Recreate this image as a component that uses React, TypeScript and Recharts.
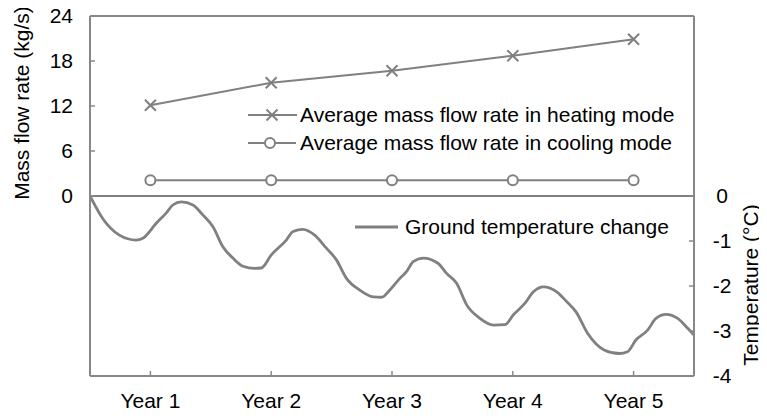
import React from "react";
import { ComposedChart, Line, XAxis, YAxis, ReferenceLine } from "recharts";

const yearPositions = [0.5, 1.5, 2.5, 3.5, 4.5];
const yearLabels = ["Year 1", "Year 2", "Year 3", "Year 4", "Year 5"];
const heatingFlow = [12.1, 15.1, 16.7, 18.7, 20.9];
const coolingFlow = [2.1, 2.1, 2.1, 2.1, 2.1];
const massTicks = [0, 6, 12, 18, 24];
const tempTicks = [0, -1, -2, -3, -4];

const tempTime = [
  0, 0.105, 0.243, 0.381, 0.437, 0.547, 0.63, 0.686, 0.755, 0.852, 0.934, 1.017, 1.1, 1.183,
  1.266, 1.362, 1.418, 1.501, 1.625, 1.681, 1.764, 1.86, 1.957, 2.04, 2.123, 2.233, 2.344,
  2.413, 2.482, 2.565, 2.62, 2.676, 2.759, 2.883, 2.952, 3.035, 3.118, 3.228, 3.339, 3.435,
  3.505, 3.601, 3.671, 3.754, 3.864, 3.947, 4.022, 4.119, 4.256, 4.381, 4.45, 4.519, 4.616,
  4.685, 4.768, 4.865, 4.948, 5.0,
];
const tempChange = [
  0, -0.5, -0.87, -0.98, -0.94, -0.61, -0.38, -0.2, -0.13, -0.2, -0.42, -0.68, -1.13, -1.38,
  -1.56, -1.61, -1.6, -1.31, -0.98, -0.79, -0.74, -0.87, -1.16, -1.42, -1.83, -2.09, -2.24,
  -2.25, -2.09, -1.83, -1.68, -1.46, -1.38, -1.5, -1.72, -1.94, -2.42, -2.72, -2.87, -2.86,
  -2.64, -2.38, -2.13, -2.02, -2.13, -2.35, -2.57, -3.05, -3.42, -3.5, -3.46, -3.2, -2.98,
  -2.72, -2.63, -2.72, -2.94, -3.09,
];

const flowData = yearPositions.map((t, i) => ({ t, heating: heatingFlow[i], cooling: coolingFlow[i] }));
const tempData = tempTime.map((t, i) => ({ t, temp: tempChange[i] }));

const FONT = "'Liberation Sans', Arial, sans-serif";
const FS = 21;
const LINE = "#808080";
const FRAME = "#888888";

const XMark = (props: any) => {
  const { cx, cy } = props;
  if (cx == null || cy == null) return null;
  const s = 5.5;
  return (
    <g>
      <line x1={cx - s} y1={cy - s} x2={cx + s} y2={cy + s} stroke={LINE} strokeWidth={2} />
      <line x1={cx - s} y1={cy + s} x2={cx + s} y2={cy - s} stroke={LINE} strokeWidth={2} />
    </g>
  );
};

const OMark = (props: any) => {
  const { cx, cy } = props;
  if (cx == null || cy == null) return null;
  return <circle cx={cx} cy={cy} r={5} fill="#fff" stroke={LINE} strokeWidth={2} />;
};

const LeftTick = (props: any) => {
  const { x, y, payload } = props;
  return (
    <g>
      <line x1={x} x2={x + 5} y1={y} y2={y} stroke={FRAME} strokeWidth={1.5} />
      <text x={x - 17} y={y} dy="0.35em" textAnchor="end" fontSize={FS} fontFamily={FONT} fill="#000">
        {payload.value}
      </text>
    </g>
  );
};

const RightTick = (props: any) => {
  const { x, y, payload } = props;
  return (
    <g>
      <line x1={x - 5} x2={x} y1={y} y2={y} stroke={FRAME} strokeWidth={1.5} />
      <text x={x + 28} y={y} dy="0.35em" textAnchor="middle" fontSize={FS} fontFamily={FONT} fill="#000">
        {payload.value}
      </text>
    </g>
  );
};

const BottomTick = (props: any) => {
  const { x, y, payload, index } = props;
  return (
    <g>
      <line x1={x} x2={x} y1={y - 5} y2={y} stroke={FRAME} strokeWidth={1.5} />
      <text x={x} y={y + 32} textAnchor="middle" fontSize={FS} fontFamily={FONT} fill="#000">
        {yearLabels[index] ?? payload.value}
      </text>
    </g>
  );
};

export default function App() {
  return (
    <div style={{ position: "relative", width: 767, height: 416, margin: -8 }}>
      <ComposedChart width={767} height={416} margin={{ top: 16, right: 0, bottom: 0, left: 0 }}>
        <XAxis
          xAxisId="x"
          type="number"
          dataKey="t"
          domain={[0, 5]}
          ticks={yearPositions}
          allowDataOverflow
          height={40}
          tickSize={0}
          tickMargin={0}
          tickLine={false}
          axisLine={{ stroke: FRAME, strokeWidth: 2 }}
          tick={<BottomTick />}
          interval={0}
        />
        <YAxis
          yAxisId="left"
          orientation="left"
          domain={[-24, 24]}
          ticks={massTicks}
          width={90}
          tickSize={0}
          tickMargin={0}
          tickLine={false}
          axisLine={{ stroke: FRAME, strokeWidth: 2 }}
          tick={<LeftTick />}
          interval={0}
          allowDataOverflow
        />
        <YAxis
          yAxisId="right"
          orientation="right"
          domain={[-4, 4]}
          ticks={tempTicks}
          width={73}
          tickSize={0}
          tickMargin={0}
          tickLine={false}
          axisLine={{ stroke: FRAME, strokeWidth: 2 }}
          tick={<RightTick />}
          interval={0}
          allowDataOverflow
        />
        <ReferenceLine xAxisId="x" yAxisId="left" y={24} stroke={FRAME} strokeWidth={2} />
        <ReferenceLine xAxisId="x" yAxisId="left" y={0} stroke="#000" strokeWidth={1} />
        <Line
          xAxisId="x"
          yAxisId="right"
          data={tempData}
          dataKey="temp"
          type="monotone"
          stroke={LINE}
          strokeWidth={2.8}
          dot={false}
          isAnimationActive={false}
        />
        <Line
          xAxisId="x"
          yAxisId="left"
          data={flowData}
          dataKey="heating"
          type="linear"
          stroke={LINE}
          strokeWidth={2}
          dot={<XMark />}
          isAnimationActive={false}
        />
        <Line
          xAxisId="x"
          yAxisId="left"
          data={flowData}
          dataKey="cooling"
          type="linear"
          stroke={LINE}
          strokeWidth={2}
          dot={<OMark />}
          isAnimationActive={false}
        />
      </ComposedChart>
      <svg
        width={767}
        height={416}
        style={{ position: "absolute", left: 0, top: 0, pointerEvents: "none" }}
      >
        <text
          x={29}
          y={103}
          transform="rotate(-90 29 103)"
          textAnchor="middle"
          fontSize={FS}
          fontFamily={FONT}
          fill="#000"
        >
          Mass flow rate (kg/s)
        </text>
        <text
          x={758}
          y={285}
          transform="rotate(-90 758 285)"
          textAnchor="middle"
          fontSize={FS}
          fontFamily={FONT}
          fill="#000"
        >
          Temperature (°C)
        </text>
        <g>
          <line x1={248} x2={297} y1={115} y2={115} stroke={LINE} strokeWidth={2} />
          <XMark cx={272} cy={115} />
          <text x={300} y={122} fontSize={FS} fontFamily={FONT} fill="#000">
            Average mass flow rate in heating mode
          </text>
        </g>
        <g>
          <line x1={248} x2={296} y1={143} y2={143} stroke={LINE} strokeWidth={2} />
          <OMark cx={270} cy={143} />
          <text x={300} y={150} fontSize={FS} fontFamily={FONT} fill="#000">
            Average mass flow rate in cooling mode
          </text>
        </g>
        <g>
          <line x1={355} x2={398} y1={227} y2={227} stroke={LINE} strokeWidth={2.8} />
          <text x={405} y={234} fontSize={FS} fontFamily={FONT} fill="#000">
            Ground temperature change
          </text>
        </g>
      </svg>
    </div>
  );
}
